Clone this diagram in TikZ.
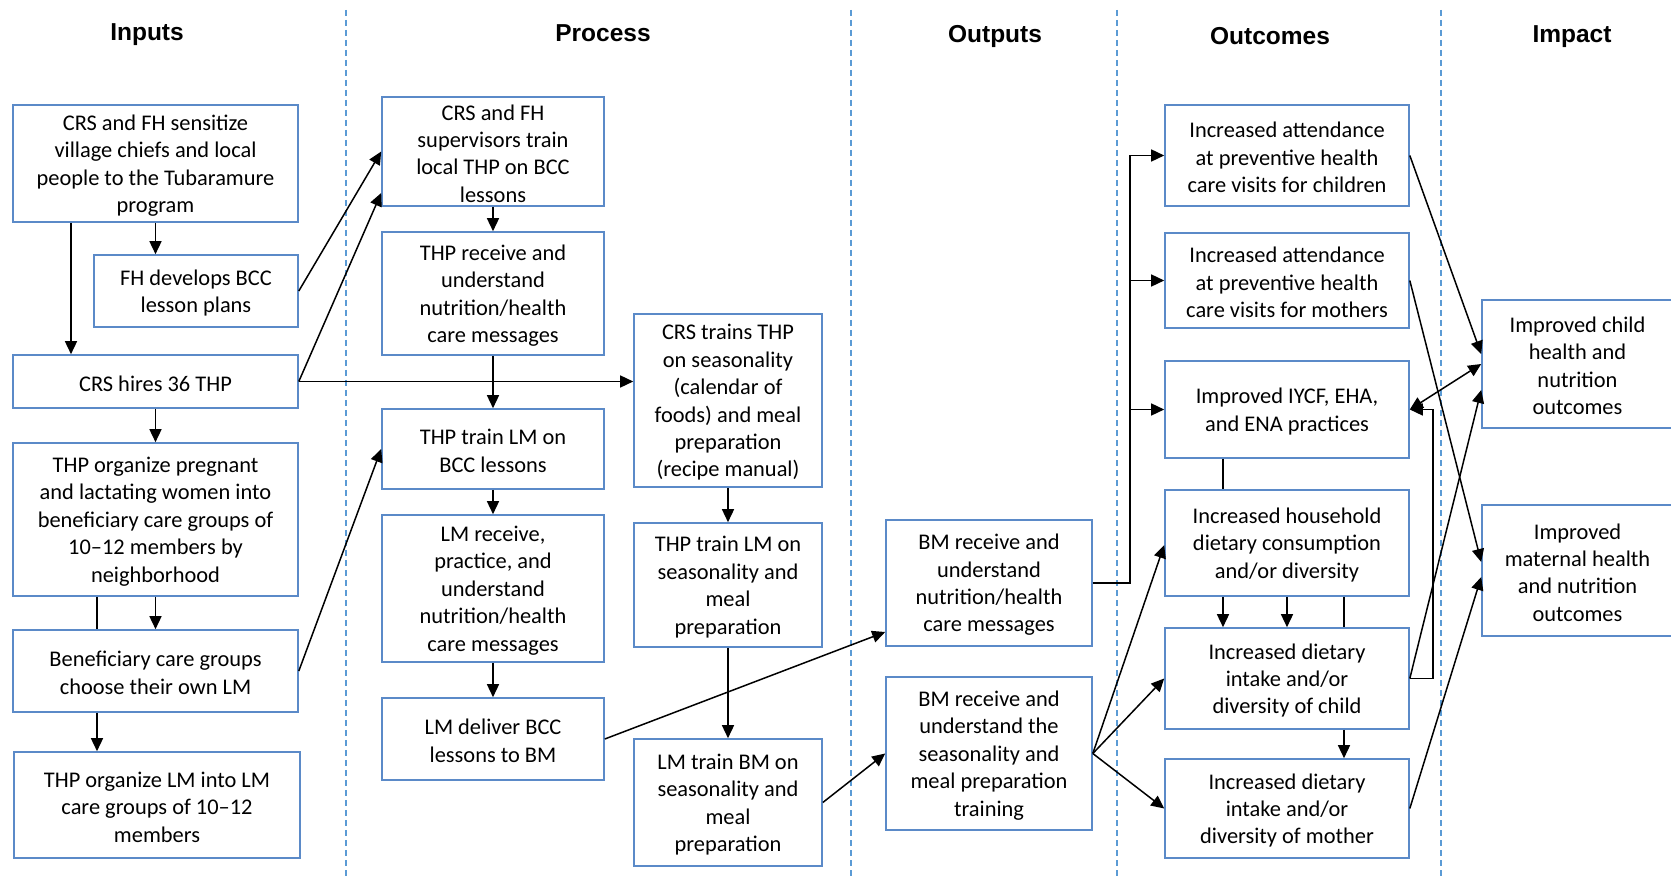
\documentclass[tikz,border=0pt]{standalone}
\usepackage{fontspec}
\setmainfont{Carlito}
\newfontfamily\headfont{Liberation Sans}
\usetikzlibrary{arrows.meta,fit,calc}
\definecolor{boxblue}{HTML}{5B8AC8}
\definecolor{laneblue}{HTML}{5B9BD5}

% framed box: #1 name, #2 and #3 opposite corners, #4 text
\newcommand\stagebox[4]{%
  \node[frame, fit={#2 #3}] (#1) {};
  \node[label text] (#1-t) at ([yshift=-2pt]#1.center) {#4};
}

\begin{document}
\begin{tikzpicture}[x=1pt,y=-1pt,
  frame/.style={draw=boxblue, line width=1.6pt, inner sep=0pt},
  label text/.style={inner sep=0pt, align=center,
    font=\fontsize{22.4}{27.4}\selectfont},
  head/.style={font=\headfont\bfseries\fontsize{24.5}{28}\selectfont},
  lane/.style={draw=laneblue, line width=1.8pt, dash pattern=on 6pt off 4pt},
  link/.style={line width=1.5pt},
  arr/.style={link, -{Triangle[length=13pt,width=12pt]}},
  biarr/.style={link, {Triangle[length=13pt,width=12pt]}-{Triangle[length=13pt,width=12pt]}}
]
\fill[white] (0,0) rectangle (1671,877);
\clip (0,0) rectangle (1671,877);

% column separators
\draw[lane] (346,10) -- (346,877);
\draw[lane] (851,10) -- (851,877);
\draw[lane] (1117,10) -- (1117,877);
\draw[lane] (1441,10) -- (1441,877);

% column headings
\node[head] (hIn)  at (147,35) {Inputs};
\node[head] (hPr)  at (603,33) {Process};
\node[head] (hOu)  at (995,36) {Outputs};
\node[head] (hOc)  at (1270,36) {Outcomes};
\node[head] (hIm)  at (1572,37) {Impact};

% inputs
\stagebox{A}{(13,105)}{(298,222)}{CRS and FH sensitize\\village chiefs and local\\people to the Tubaramure\\program}
\stagebox{B}{(94,255)}{(298,327)}{FH develops BCC\\lesson plans}
\stagebox{C}{(13,355)}{(298,408)}{CRS hires 36 THP}
\stagebox{D}{(13,443)}{(298,596)}{THP organize pregnant\\and lactating women into\\beneficiary care groups of\\10–12 members by\\neighborhood}
\stagebox{E}{(13,630)}{(298,712)}{Beneficiary care groups\\choose their own LM}
\stagebox{F}{(14,752)}{(300,858)}{THP organize LM into LM\\care groups of 10–12\\members}

% process
\stagebox{P1}{(382,97)}{(604,206)}{CRS and FH\\supervisors train\\local THP on BCC\\lessons}
\stagebox{P2}{(382,232)}{(604,355)}{THP receive and\\understand\\nutrition/health\\care messages}
\stagebox{P3}{(382,409)}{(604,489)}{THP train LM on\\BCC lessons}
\stagebox{P4}{(382,515)}{(604,662)}{LM receive,\\practice, and\\understand\\nutrition/health\\care messages}
\stagebox{P7}{(382,698)}{(604,780)}{LM deliver BCC\\lessons to BM}
\stagebox{P5}{(634,314)}{(822,487)}{CRS trains THP\\on seasonality\\(calendar of\\foods) and meal\\preparation\\(recipe manual)}
\stagebox{P6}{(634,523)}{(822,647)}{THP train LM on\\seasonality and\\meal\\preparation}
\stagebox{P8}{(634,739)}{(822,866)}{LM train BM on\\seasonality and\\meal\\preparation}

% outputs
\stagebox{O1}{(886,520)}{(1092,646)}{BM receive and\\understand\\nutrition/health\\care messages}
\stagebox{O2}{(886,677)}{(1092,830)}{BM receive and\\understand the\\seasonality and\\meal preparation\\training}

% outcomes
\stagebox{OC1}{(1165,105)}{(1409,206)}{Increased attendance\\at preventive health\\care visits for children}
\stagebox{OC2}{(1165,233)}{(1409,328)}{Increased attendance\\at preventive health\\care visits for mothers}
\stagebox{OC3}{(1165,361)}{(1409,458)}{Improved IYCF, EHA,\\and ENA practices}
\stagebox{OC4}{(1165,490)}{(1409,596)}{Increased household\\dietary consumption\\and/or diversity}
\stagebox{OC5}{(1165,628)}{(1409,729)}{Increased dietary\\intake and/or\\diversity of child}
\stagebox{OC6}{(1165,759)}{(1409,858)}{Increased dietary\\intake and/or\\diversity of mother}

% impact
\stagebox{I1}{(1482,300)}{(1673,428)}{Improved child\\health and\\nutrition\\outcomes}
\stagebox{I2}{(1482,505)}{(1673,636)}{Improved\\maternal health\\and nutrition\\outcomes}

% input links
\draw[arr] (A.south) -- (A.south |- B.north);
\coordinate (a1) at ([xshift=-84.5pt]A.south);
\draw[arr] (a1) -- (a1 |- C.north);
\draw[arr] (C.south) -- (D.north);
\coordinate (d1) at ([xshift=-58.5pt]D.south);
\draw[link] (d1) -- (d1 |- E.north);
\draw[arr] (D.south) -- (E.north);
\coordinate (e1) at ([xshift=-58.5pt]E.south);
\draw[arr] (e1) -- (e1 |- F.north);
\draw[arr] (B.east) -- (P1.west);
\draw[arr] (C.east) -- ([yshift=-41.5pt]P1.west);
\draw[arr] (C.east) -- (C.east -| P5.west);
\draw[arr] (E.east) -- (P3.west);

% process links
\draw[arr] (P1.south) -- (P2.north);
\draw[arr] (P2.south) -- (P3.north);
\draw[arr] (P3.south) -- (P4.north);
\draw[arr] (P4.south) -- (P7.north);
\draw[arr] (P5.south) -- (P6.north);
\draw[arr] (P6.south) -- (P8.north);
\draw[arr] (P7.east) -- ([yshift=-49pt]O1.west);
\draw[arr] (P8.east) -- (O2.west);

% output links
\coordinate (jn) at ($(O1.east)+(37,0)$);
\draw[arr] (O1.east) -- (jn) -- (jn |- OC1.west) -- (OC1.west);
\draw[arr] (jn |- OC2.west) -- (OC2.west);
\draw[arr] (jn |- OC3.west) -- (OC3.west);
\draw[arr] (O2.east) -- ([yshift=-2pt]OC4.west);
\draw[arr] (O2.east) -- (OC5.west);
\draw[arr] (O2.east) -- (OC6.west);

% outcome links
\coordinate (c1) at ([xshift=-64pt]OC3.south);
\draw[link] (c1) -- (c1 |- OC4.north);
\coordinate (c2) at ([xshift=-64pt]OC4.south);
\draw[arr] (c2) -- (c2 |- OC5.north);
\draw[arr] (OC4.south) -- (OC5.north);
\coordinate (c3) at ([xshift=57pt]OC4.south);
\draw[link] (c3) -- (c3 |- OC5.north);
\coordinate (c4) at ([xshift=57pt]OC5.south);
\draw[arr] (c4) -- (c4 |- OC6.north);
\coordinate (kn) at ($(OC5.east)+(23,0)$);
\draw[arr] (OC5.east) -- (kn) -- (kn |- OC3.east) -- (OC3.east);

% impact links
\draw[arr] (OC1.east) -- ([yshift=10pt]I1.west);
\draw[arr] (OC2.east) -- ([yshift=8.5pt]I2.west);
\draw[biarr] (OC3.east) -- (I1.west);
\draw[arr] (OC5.east) -- ([yshift=-26pt]I1.west);
\draw[arr] (OC6.east) -- ([yshift=-6.5pt]I2.west);
\end{tikzpicture}
\end{document}
